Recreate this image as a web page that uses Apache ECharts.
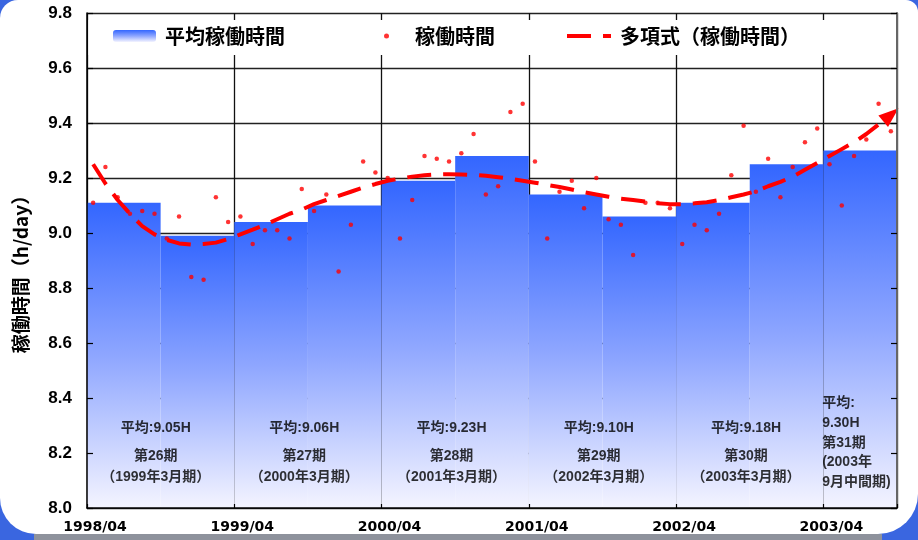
<!DOCTYPE html>
<html><head><meta charset="utf-8">
<script src="https://cdn.jsdelivr.net/npm/echarts@6/dist/echarts.min.js"></script>
<style>html,body{margin:0;padding:0;background:#fff}#c{width:918px;height:540px}</style>
</head><body><div id="c"></div>
<script>
// ---- data ----
const halfYears = ['1998/04-09','1998/10-03','1999/04-09','1999/10-03','2000/04-09','2000/10-03','2001/04-09','2001/10-03','2002/04-09','2002/10-03','2003/04-09'];
const barValues = [9.11, 8.99, 9.04, 9.10, 9.19, 9.28, 9.14, 9.06, 9.11, 9.25, 9.30];
// monthly values, 1998/04 ... 2003/09
const dotValues = [9.11, 9.24, 9.13, 9.07, 9.08, 9.07, 8.98, 9.06, 8.84, 8.83, 9.13, 9.04,
                   9.06, 8.96, 9.01, 9.01, 8.98, 9.16, 9.08, 9.14, 8.86, 9.03, 9.26, 9.22,
                   9.20, 8.98, 9.12, 9.28, 9.27, 9.26, 9.29, 9.36, 9.14, 9.17, 9.44, 9.47,
                   9.26, 8.98, 9.15, 9.19, 9.09, 9.20, 9.05, 9.03, 8.92, 9.11, 9.11, 9.09,
                   8.96, 9.03, 9.01, 9.07, 9.21, 9.39, 9.15, 9.27, 9.13, 9.24, 9.33, 9.38,
                   9.25, 9.10, 9.28, 9.34, 9.47, 9.37];
const trendValues = [9.25, 9.18, 9.12, 9.07, 9.025, 8.995, 8.975, 8.962, 8.958, 8.96, 8.965, 8.978,
                     8.995, 9.012, 9.03, 9.05, 9.07, 9.085, 9.105, 9.12, 9.135, 9.15, 9.165, 9.178,
                     9.19, 9.198, 9.205, 9.21, 9.213, 9.214, 9.213, 9.211, 9.208, 9.203, 9.197, 9.19,
                     9.183, 9.175, 9.167, 9.158, 9.148, 9.14, 9.132, 9.125, 9.12, 9.114, 9.108, 9.105,
                     9.105, 9.108, 9.112, 9.12, 9.13, 9.14, 9.152, 9.17, 9.186, 9.205, 9.23, 9.255,
                     9.28, 9.305, 9.33, 9.36, 9.395, 9.43];
const xTickLabels = ['1998/04','1999/04','2000/04','2001/04','2002/04','2003/04'];
const avgLabels = ['平均:9.05H','平均:9.06H','平均:9.23H','平均:9.10H','平均:9.18H'];
const termLabels = ['第26期','第27期','第28期','第29期','第30期'];
const fyLabels = ['（1999年3月期）','（2000年3月期）','（2001年3月期）','（2002年3月期）','（2003年3月期）'];
const noteX = [5.6, 17.7, 29.7, 41.7, 53.7];
const noteY = [8.290, 8.187, 8.114];
const lastNoteLines = ['平均:','9.30H','第31期','(2003年','9月中間期)'];
const lastNoteX = 59.9;
const lastNoteY = [8.383, 8.310, 8.237, 8.168, 8.095];

// ---- build ----
const chart = echarts.init(document.getElementById('c'));
const LAT = '"Liberation Sans", "Noto Sans CJK JP", sans-serif';
const CJK = '"Noto Sans CJK JP", sans-serif';

const dotData = dotValues.map((v, i) => [i + 0.5, v]);
const trendData = trendValues.map((v, i) => i === trendValues.length - 1
  ? { value: [i + 0.5, v], symbol: 'triangle', symbolSize: [15, 20], symbolRotate: -50 }
  : [i + 0.5, v]);

const noteData = [];
noteX.forEach((x, k) => {
  [avgLabels[k], termLabels[k], fyLabels[k]].forEach((t, j) => {
    noteData.push({ value: [x, noteY[j]], name: t, label: { align: 'center' } });
  });
});
lastNoteLines.forEach((t, j) => {
  noteData.push({ value: [lastNoteX, lastNoteY[j]], name: t, label: { align: 'left' } });
});

const barGrad = new echarts.graphic.LinearGradient(0, 0, 0, 1, [
  { offset: 0, color: '#3366ff' },
  { offset: 0.5, color: '#8ea6ff' },
  { offset: 1, color: '#f4f4ff' }
]);

const yBase = { type: 'value', min: 8, max: 9.8, interval: 0.2 };

const option = {
  backgroundColor: '#3a66e0',
  animation: false,
  grid: { left: 87, right: 21, top: 13, bottom: 32, containLabel: false },
  graphic: [
    { type: 'rect', silent: true, z: -5, shape: { x: 0, y: 0, width: 918, height: 534, r: [18, 12, 40, 36] }, style: { fill: '#ffffff' } },
    { type: 'rect', silent: true, z: -5, shape: { x: 34, y: 534, width: 848, height: 6 }, style: { fill: '#8e929c' } },
    { type: 'rect', silent: true, z: 5, shape: { x: 88.5, y: 20, width: 807, height: 35 }, style: { fill: '#ffffff' } }
  ],
  legend: [
    { z: 10, data: ['平均稼働時間'], left: 113, top: 26, padding: 0, itemWidth: 43, itemHeight: 12,
      textStyle: { fontSize: 20, fontWeight: 'bold', fontFamily: CJK, color: '#000', padding: [0, 0, 0, 4] } },
    { z: 10, data: ['稼働時間'], left: 384, top: 26, padding: 0, itemWidth: 5, itemHeight: 5,
      textStyle: { fontSize: 20, fontWeight: 'bold', fontFamily: CJK, color: '#000', padding: [0, 0, 0, 21] } },
    { z: 10, data: [{ name: '多項式（稼働時間）', icon: 'path://M0 0H24V4H0ZM36 0H44V4H36Z' }],
      left: 567, top: 26, padding: 0, itemWidth: 44, itemHeight: 4,
      textStyle: { fontSize: 20, fontWeight: 'bold', fontFamily: CJK, color: '#000', padding: [0, 0, 0, 4] } }
  ],
  xAxis: [
    { type: 'value', min: 0, max: 66, interval: 12, position: 'bottom', z: 10,
      axisLine: { show: true, lineStyle: { color: '#000', width: 1.5 } },
      axisTick: { show: true, inside: true, length: 4, lineStyle: { color: '#000', width: 1.2 } },
      splitLine: { show: false },
      axisLabel: { margin: 12, color: '#000', fontSize: 14, fontWeight: 'bold', fontFamily: '"DejaVu Sans", sans-serif',
        padding: [0, 0, 0, 16],
        formatter: v => (v % 12 === 0 && v / 12 < xTickLabels.length) ? xTickLabels[v / 12] : '' } },
    { type: 'category', data: halfYears, show: false, boundaryGap: true },
    { type: 'value', min: 0, max: 66, interval: 12, z: 0,
      axisLine: { show: false }, axisTick: { show: false }, axisLabel: { show: false },
      splitLine: { show: true, lineStyle: { color: '#111', width: 1.3 } } }
  ],
  yAxis: [
    Object.assign({}, yBase, { position: 'left', z: 0,
      name: '稼働時間（h/day）', nameLocation: 'middle', nameGap: 57, nameRotate: 90,
      nameTextStyle: { fontSize: 19, fontWeight: 'bold', fontFamily: CJK, color: '#000', padding: [0, 18, 0, 0] },
      axisLine: { show: false }, axisTick: { show: false },
      axisLabel: { margin: 15, color: '#000', fontSize: 17, fontWeight: 'bold', fontFamily: LAT, formatter: v => v.toFixed(1) },
      splitLine: { show: true, lineStyle: { color: '#222', width: 1.3 } } }),
    Object.assign({}, yBase, { position: 'left', z: 10,
      axisLine: { show: true, lineStyle: { color: '#000', width: 1.5 } },
      axisTick: { show: true, inside: true, length: 6, lineStyle: { color: '#000', width: 1.2 } },
      axisLabel: { show: false }, splitLine: { show: false } }),
    Object.assign({}, yBase, { position: 'right', z: 10,
      axisLine: { show: true, lineStyle: { color: '#666', width: 2 } },
      axisTick: { show: true, inside: true, length: 6, lineStyle: { color: '#000', width: 1.2 } },
      axisLabel: { show: false }, splitLine: { show: false } })
  ],
  series: [
    { name: 'base', type: 'bar', xAxisIndex: 1, yAxisIndex: 0, stack: 'b', silent: true, barWidth: '100%',
      itemStyle: { color: 'rgba(0,0,0,0)' }, data: barValues.map(() => 8), z: 2 },
    { name: '平均稼働時間', type: 'bar', xAxisIndex: 1, yAxisIndex: 0, stack: 'b', barWidth: '100%',
      itemStyle: { color: barGrad }, data: barValues.map(v => +(v - 8).toFixed(3)), z: 2 },
    { name: '稼働時間', type: 'scatter', xAxisIndex: 0, yAxisIndex: 0, symbol: 'circle', symbolSize: 4.5,
      itemStyle: { color: '#ff0000' }, data: dotData, z: 4 },
    { name: '多項式（稼働時間）', type: 'line', xAxisIndex: 0, yAxisIndex: 0, symbol: 'none', showSymbol: true,
      lineStyle: { color: '#ff0000', width: 4, type: [24, 12], cap: 'butt' },
      itemStyle: { color: '#ff0000' }, data: trendData, z: 5 },
    { name: 'notes', type: 'scatter', xAxisIndex: 0, yAxisIndex: 0, symbolSize: 1, silent: true,
      itemStyle: { color: 'rgba(0,0,0,0)' }, z: 6,
      label: { show: true, position: 'inside', color: '#000', fontSize: 14, fontWeight: 'bold', fontFamily: LAT,
        formatter: p => p.name },
      data: noteData }
  ]
};
chart.setOption(option);
</script>
</body></html>
